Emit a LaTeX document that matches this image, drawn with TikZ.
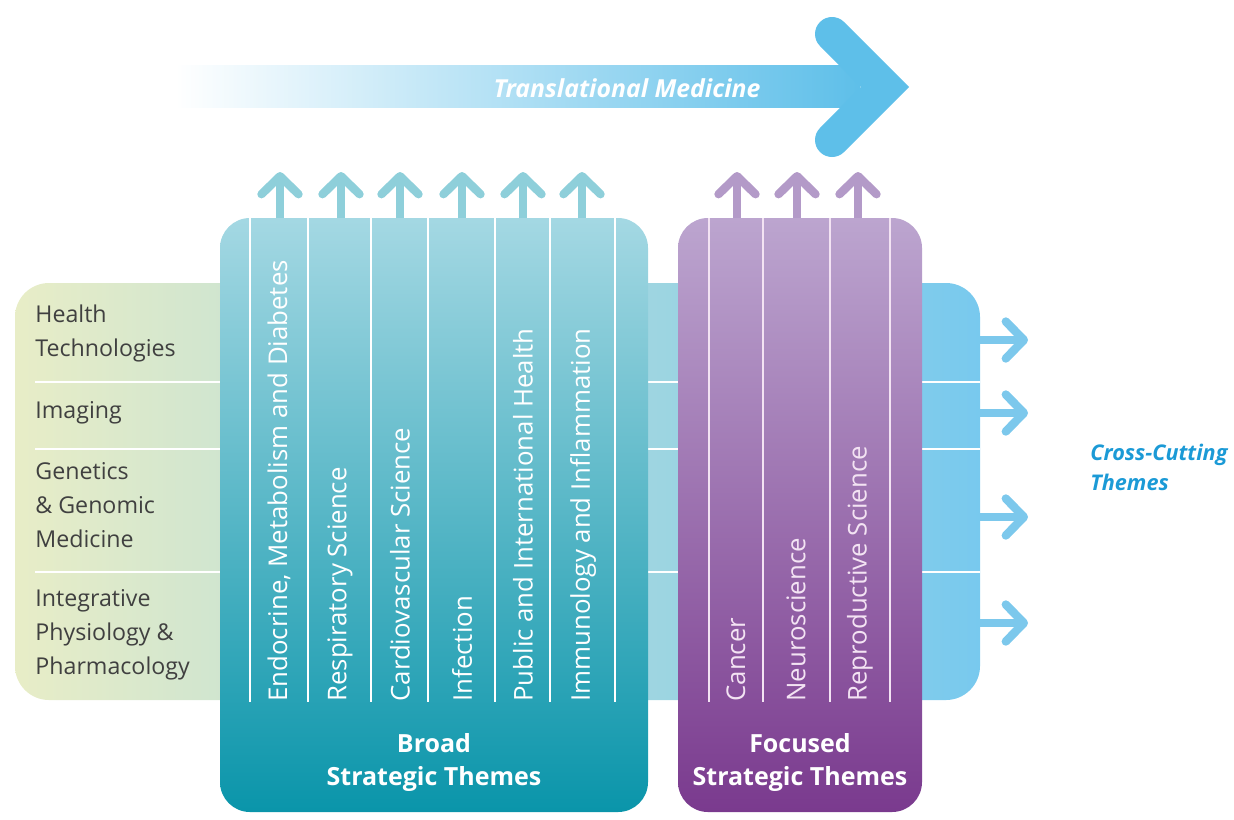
\documentclass[tikz,border=0pt]{standalone}
\usepackage{fontspec}
\setmainfont{Open Sans}
\usetikzlibrary{calc}
\usetikzlibrary{arrows.meta}

\definecolor{bandleft}{HTML}{E8EDC7}
\definecolor{bandright}{HTML}{78C9EE}
\definecolor{tmblue}{HTML}{5EBFE9}
\definecolor{broadtop}{HTML}{A4D8E3}
\definecolor{broadbot}{HTML}{0A95AA}
\definecolor{focustop}{HTML}{BCA5CF}
\definecolor{focusbot}{HTML}{7A3A8E}
\definecolor{tealarrow}{HTML}{8ECFDA}
\definecolor{purparrow}{HTML}{B39AC8}
\definecolor{outblue}{HTML}{7CC8EC}
\definecolor{crossblue}{HTML}{1B9AD6}
\definecolor{labelgrey}{HTML}{404040}
\definecolor{focusline}{HTML}{F3E3F3}

\begin{document}
\begin{tikzpicture}[x=0.5pt,y=-0.5pt]
\tikzstyle{sidetext}=[anchor=west, align=left, text=labelgrey, inner sep=0pt, font=\fontsize{11.6}{17}\selectfont]
\tikzstyle{vtext}=[rotate=90, anchor=west, text=white, inner sep=0pt, font=\fontsize{12.9}{15}\selectfont]
\tikzstyle{boxlabel}=[align=center, text=white, inner sep=0pt, font=\bfseries\fontsize{12.5}{16.5}\selectfont]
\tikzstyle{sepline}=[white, line width=1pt]
\tikzstyle{tealup}=[draw=tealarrow, line width=4.2pt, -{Straight Barb[length=9pt,width=18.5pt,round]}]
\tikzstyle{purpup}=[draw=purparrow, line width=4.2pt, -{Straight Barb[length=9pt,width=18.5pt,round]}]
\tikzstyle{outarrow}=[draw=outblue, line width=4.2pt, -{Straight Barb[length=9pt,width=18.5pt,round]}]

\useasboundingbox (0,0) rectangle (1234,819);

% band of cross-cutting themes
\coordinate (bandNW) at (15,283);
\coordinate (bandSE) at (980,700);
\path[rounded corners=17pt, left color=bandleft, right color=bandright] (bandNW) rectangle (bandSE);
\foreach \y in {382,449,572}
  \draw[sepline] (35,\y) -- (bandSE |- 0,\y);
\foreach \y in {340,413,517,623}
  \draw[outarrow] (bandSE |- 0,\y) -- (1028,\y);

\node[sidetext] (health) at (35,333) {Health\\Technologies};
\node[sidetext] (imaging) at (35,413) {Imaging};
\node[sidetext] (genetics) at (35,505) {Genetics\\\& Genomic\\Medicine};
\node[sidetext] (physio) at (35,635) {Integrative\\Physiology \&\\Pharmacology};

\node[anchor=west, align=left, text=crossblue, inner sep=0pt, font=\bfseries\itshape\fontsize{10.8}{15}\selectfont] (cross) at (1090,467) {Cross-Cutting\\Themes};

% translational medicine arrow
\path[left color=white, middle color=tmblue!40, right color=tmblue] (175,65) rectangle (860,107);
\draw[tmblue, line width=17pt, line cap=round, line join=miter] (832,34) -- (885,87) -- (832,140);
\node[text=white, inner sep=0pt, font=\bfseries\itshape\fontsize{12.4}{15}\selectfont] (transl) at (627,88) {Translational Medicine};

% broad strategic themes
\coordinate (broadNW) at (220,218);
\coordinate (broadSE) at (648,812);
\path[rounded corners=15pt, top color=broadtop, bottom color=broadbot] (broadNW) rectangle (broadSE);
\foreach \x in {250,308,371,428,495,550,615}
  \draw[sepline] (\x,218) -- (\x,702);
\foreach \x/\t [count=\i] in {279/{Endocrine, Metabolism and Diabetes},340/{Respiratory Science},400/{Cardiovascular Science},462/{Infection},523/{Public and International Health},583/{Immunology and Inflammation}}
  \node[vtext] (broad\i) at (\x,702) {\t};
\foreach \x in {280,341,400,462,523,582}
  \draw[tealup] (\x,218) -- (\x,172);
\node[boxlabel] (broadlbl) at (434,762) {Broad\\Strategic Themes};

% focused strategic themes
\coordinate (focusNW) at (678,218);
\coordinate (focusSE) at (922,812);
\path[rounded corners=15pt, top color=focustop, bottom color=focusbot] (focusNW) rectangle (focusSE);
\foreach \x in {709,763,830,890}
  \draw[sepline, focusline] (\x,218) -- (\x,702);
\foreach \x/\t [count=\i] in {736/{Cancer},796/{Neuroscience},860/{Reproductive Science}}
  \node[vtext, text=focusline] (focus\i) at (\x,702) {\t};
\foreach \x in {737,797,858}
  \draw[purpup] (\x,218) -- (\x,172);
\node[boxlabel] (focuslbl) at (800,762) {Focused\\Strategic Themes};

\end{tikzpicture}
\end{document}
